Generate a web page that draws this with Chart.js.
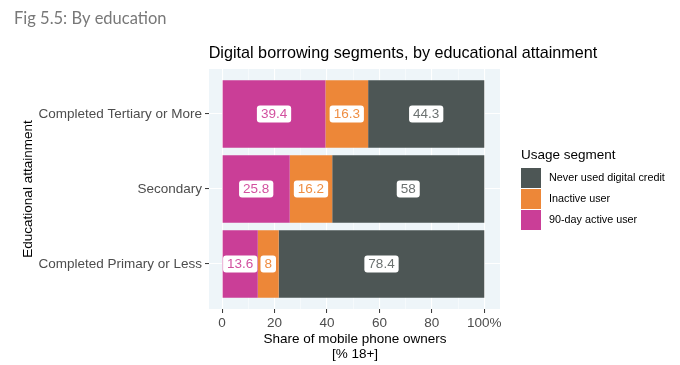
<!DOCTYPE html>
<html><head><meta charset="utf-8">
<script src="https://cdn.jsdelivr.net/npm/chart.js@4.4.0/dist/chart.umd.min.js"></script>
<style>html,body{margin:0;padding:0;background:#fff}#wrap{width:680px;height:365px;position:relative}</style>
</head><body><div id="wrap"><canvas id="c" width="680" height="365"></canvas></div>
<script>
const categories = ['Completed Tertiary or More', 'Secondary', 'Completed Primary or Less'];
const active90 = [39.4, 25.8, 13.6];
const inactive = [16.3, 16.2, 8];
const neverUsed = [44.3, 58, 78.4];
const xTicks = [0, 20, 40, 60, 80, 100];
const xMinor = [10, 30, 50, 70, 90];
const seriesNames = ['90-day active user', 'Inactive user', 'Never used digital credit'];
const colors = ['#CA3E97', '#ED8738', '#4D5655'];
const labelColors = ['#D2519F', '#EF8E43', '#6C7271'];

const catPos = i => categories.length - i;
const toPts = arr => arr.map((v, i) => ({x: v, y: catPos(i)}));
const SANS = '"Liberation Sans", Arial, sans-serif';

const textPlugin = {
  id: 'texts',
  beforeDraw(chart) {
    const {ctx, chartArea: a} = chart;
    ctx.save();
    ctx.fillStyle = '#EEF5F9';
    ctx.fillRect(a.left, a.top, a.right - a.left, a.bottom - a.top);
    ctx.restore();
  },
  afterDraw(chart) {
    const {ctx} = chart;
    ctx.save();
    ctx.textBaseline = 'alphabetic';
    ctx.fillStyle = '#787878';
    ctx.font = '16.5px Lato, sans-serif';
    ctx.textAlign = 'left';
    ctx.fillText('Fig 5.5: By education', 14, 24);
    ctx.fillStyle = '#000';
    ctx.font = '16.2px ' + SANS;
    ctx.textAlign = 'center';
    ctx.fillText('Digital borrowing segments, by educational attainment', 403, 58);
    ctx.font = '13.5px ' + SANS;
    ctx.fillText('Share of mobile phone owners', 355, 343);
    ctx.fillText('[% 18+]', 355, 358);
    ctx.save();
    ctx.translate(32, 189);
    ctx.rotate(-Math.PI / 2);
    ctx.fillText('Educational attainment', 0, 0);
    ctx.restore();
    ctx.textAlign = 'left';
    ctx.font = '13.5px ' + SANS;
    ctx.fillText('Usage segment', 521, 159);
    const order = [2, 1, 0];
    ctx.font = '10.8px ' + SANS;
    order.forEach((di, k) => {
      const y = 168 + k * 21;
      ctx.fillStyle = colors[di];
      ctx.fillRect(521, y, 20, 20);
      ctx.fillStyle = '#000';
      ctx.textBaseline = 'middle';
      ctx.fillText(seriesNames[di], 549, y + 10.5);
    });
    ctx.restore();
  },
  afterDatasetsDraw(chart) {
    const {ctx} = chart;
    ctx.save();
    ctx.font = '13.5px ' + SANS;
    ctx.textAlign = 'center';
    ctx.textBaseline = 'middle';
    chart.data.datasets.forEach((ds, di) => {
      const meta = chart.getDatasetMeta(di);
      meta.data.forEach((el, i) => {
        const v = ds.data[i].x;
        const cx = (el.x + el.base) / 2, cy = el.y;
        const t = String(v);
        const w = ctx.measureText(t).width + 8, h = 17;
        ctx.beginPath();
        ctx.roundRect(cx - w / 2, cy - h / 2, w, h, 3);
        ctx.fillStyle = '#fff';
        ctx.fill();
        ctx.fillStyle = labelColors[di];
        ctx.fillText(t, cx, cy + 0.5);
      });
    });
    ctx.restore();
  }
};

new Chart(document.getElementById('c'), {
  type: 'bar',
  data: {
    datasets: [
      {label: seriesNames[0], data: toPts(active90), backgroundColor: colors[0]},
      {label: seriesNames[1], data: toPts(inactive), backgroundColor: colors[1]},
      {label: seriesNames[2], data: toPts(neverUsed), backgroundColor: colors[2]}
    ]
  },
  options: {
    indexAxis: 'y',
    responsive: false,
    animation: false,
    devicePixelRatio: 1,
    layout: {padding: {top: 69, left: 0, right: 180, bottom: 0}},
    datasets: {bar: {categoryPercentage: 1, barPercentage: 0.9, borderWidth: 0}},
    plugins: {legend: {display: false}, title: {display: false}, tooltip: {enabled: false}},
    scales: {
      x: {
        type: 'linear', stacked: true, min: -5, max: 106, bounds: 'data', offset: false,
        afterBuildTicks: s => { s.ticks = xTicks.concat(xMinor).sort((a, b) => a - b).map(v => ({value: v})); },
        afterFit: s => { s.height = 56; },
        border: {display: false},
        grid: {
          offset: false,
          color: '#FFFFFF',
          lineWidth: c => (c.tick && xTicks.includes(c.tick.value)) ? 1.1 : 0.5,
          tickColor: c => (c.tick && xTicks.includes(c.tick.value)) ? '#333333' : 'rgba(0,0,0,0)',
          tickLength: 4, tickWidth: 1
        },
        ticks: {
          autoSkip: false, maxRotation: 0, padding: 2, color: '#4D4D4D',
          font: {family: SANS, size: 13.5},
          callback: v => xTicks.includes(v) ? (v === 100 ? '100%' : String(v)) : ''
        }
      },
      y: {
        type: 'linear', stacked: true, min: 0.4, max: 3.6, bounds: 'data', offset: false,
        afterBuildTicks: s => { s.ticks = categories.map((c, i) => ({value: catPos(i)})); },
        afterFit: s => { s.width = 209; },
        border: {display: false},
        grid: {offset: false, color: '#FFFFFF', lineWidth: 1.1, tickColor: '#333333', tickLength: 4, tickWidth: 1},
        ticks: {
          autoSkip: false, padding: 3, color: '#4D4D4D',
          font: {family: SANS, size: 13.5},
          callback: v => categories[categories.length - v] || ''
        }
      }
    }
  },
  plugins: [textPlugin]
});
</script></body></html>
